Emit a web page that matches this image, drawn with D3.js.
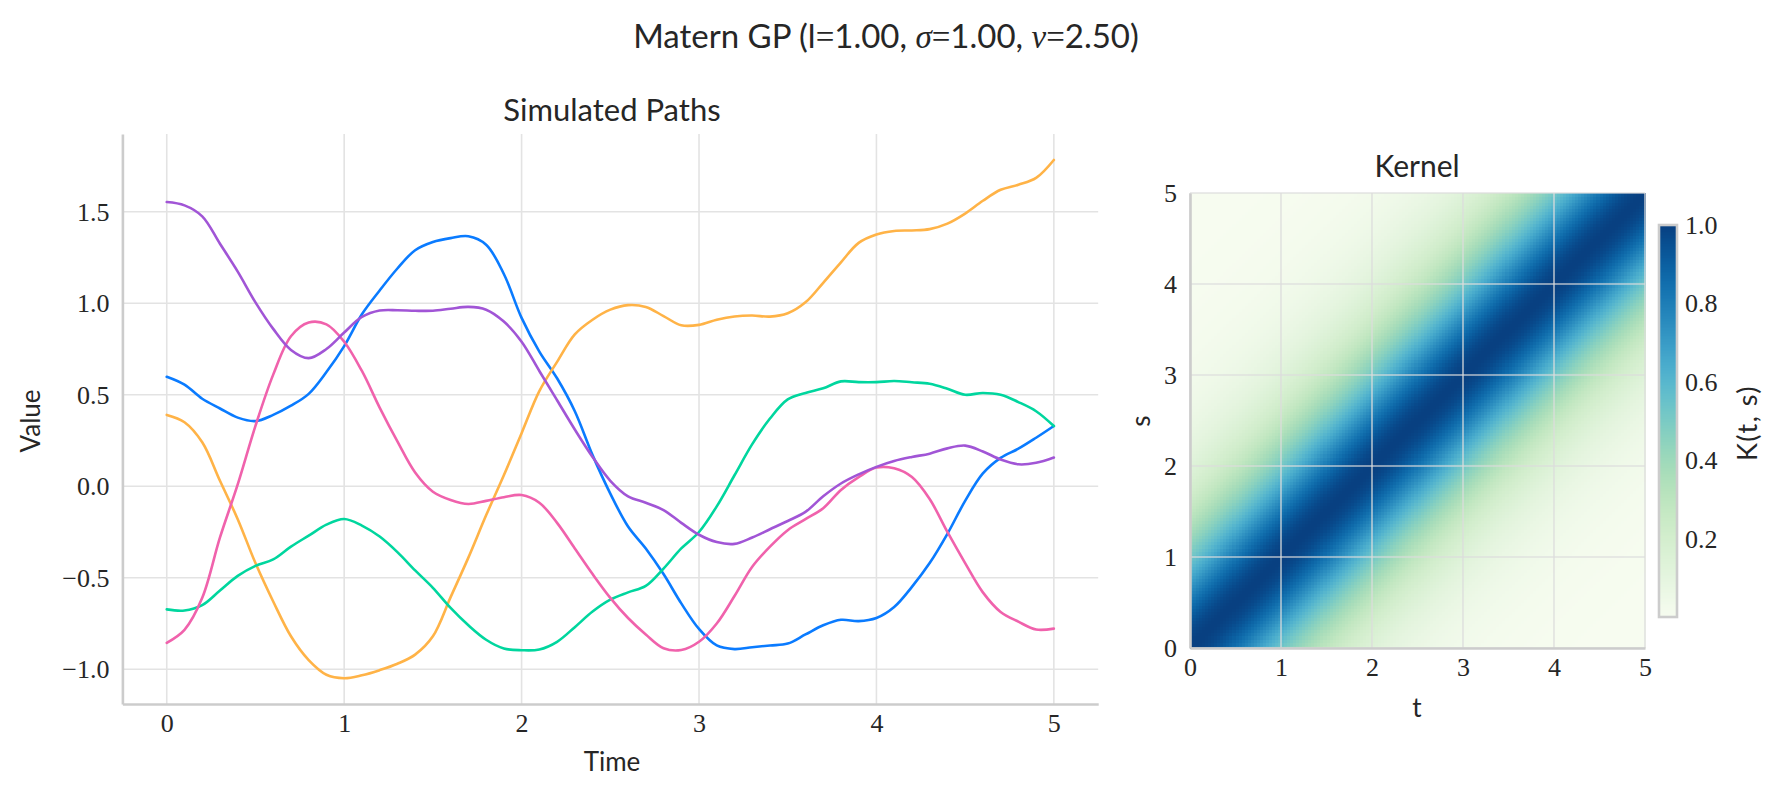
<!DOCTYPE html>
<html>
<head>
<meta charset="utf-8">
<script src="https://cdn.jsdelivr.net/npm/d3@7"></script>
<style>
  html, body { margin: 0; padding: 0; background: #ffffff; }
  svg { display: block; }
</style>
</head>
<body>
<svg id="chart" width="1780" height="793"></svg>
<script>
// ---------------- DATA ----------------
const times = [0.0,0.1,0.2,0.3,0.4,0.5,0.6,0.7,0.8,0.9,1.0,1.1,1.2,1.3,1.4,1.5,1.6,1.7,1.8,1.9,2.0,
  2.1,2.2,2.3,2.4,2.5,2.6,2.7,2.8,2.9,3.0,3.1,3.2,3.3,3.4,3.5,3.6,3.7,3.8,3.9,4.0,
  4.1,4.2,4.3,4.4,4.5,4.6,4.7,4.8,4.9,5.0];

const pathBlue = [0.598,0.555,0.478,0.425,0.375,0.356,0.39,0.44,0.505,0.624,0.766,
  0.94,1.07,1.19,1.29,1.335,1.356,1.366,1.32,1.16,0.92,
  0.736,0.59,0.41,0.17,-0.04,-0.22,-0.34,-0.48,-0.64,-0.78,
  -0.87,-0.89,-0.88,-0.87,-0.86,-0.81,-0.76,-0.73,-0.737,-0.72,
  -0.66,-0.55,-0.42,-0.26,-0.08,0.07,0.155,0.205,0.265,0.329];

const pathOrange = [0.39,0.35,0.24,0.03,-0.18,-0.42,-0.63,-0.82,-0.95,-1.03,-1.049,
  -1.033,-1.005,-0.97,-0.92,-0.82,-0.606,-0.39,-0.159,0.06,0.29,
  0.52,0.68,0.83,0.91,0.965,0.99,0.98,0.93,0.88,0.882,
  0.91,0.928,0.933,0.927,0.945,1.005,1.112,1.224,1.33,1.376,
  1.395,1.398,1.405,1.435,1.49,1.56,1.62,1.648,1.685,1.783];

const pathGreen = [-0.673,-0.679,-0.65,-0.57,-0.49,-0.435,-0.40,-0.33,-0.27,-0.21,-0.179,
  -0.215,-0.275,-0.36,-0.46,-0.555,-0.665,-0.76,-0.839,-0.887,-0.896,
  -0.892,-0.85,-0.77,-0.685,-0.62,-0.58,-0.545,-0.45,-0.34,-0.25,
  -0.11,0.06,0.23,0.37,0.475,0.51,0.535,0.573,0.569,0.569,
  0.575,0.568,0.56,0.533,0.50,0.51,0.50,0.46,0.41,0.329];

const pathPink = [-0.856,-0.785,-0.61,-0.28,0.01,0.33,0.61,0.82,0.895,0.885,0.79,
  0.63,0.43,0.245,0.075,-0.03,-0.075,-0.097,-0.08,-0.06,-0.048,
  -0.09,-0.20,-0.34,-0.48,-0.61,-0.72,-0.81,-0.885,-0.895,-0.85,
  -0.75,-0.60,-0.44,-0.33,-0.24,-0.18,-0.12,-0.02,0.05,0.102,
  0.098,0.05,-0.07,-0.25,-0.42,-0.58,-0.687,-0.74,-0.783,-0.778];

const pathPurple = [1.553,1.535,1.475,1.325,1.173,1.005,0.86,0.745,0.70,0.75,0.84,
  0.925,0.96,0.962,0.959,0.959,0.97,0.98,0.965,0.90,0.79,
  0.63,0.47,0.31,0.16,0.03,-0.055,-0.09,-0.13,-0.20,-0.265,
  -0.305,-0.315,-0.28,-0.235,-0.19,-0.14,-0.055,0.015,0.065,0.106,
  0.138,0.16,0.178,0.207,0.222,0.19,0.146,0.12,0.128,0.157];

const seriesNames = ["blue", "orange", "green", "pink", "purple"];
const seriesColors = ["#0a7bff", "#ffb347", "#00d69e", "#f062ac", "#a155d6"];

const pathTicksX = [0, 1, 2, 3, 4, 5];
const pathTicksY = [-1.0, -0.5, 0.0, 0.5, 1.0, 1.5];
const kernelTicks = [0, 1, 2, 3, 4, 5];
const colorbarTicks = [0.2, 0.4, 0.6, 0.8, 1.0];

// Matern kernel parameters, as given in the chart title
const lengthScale = 1.0;
const sigma = 1.0;
const nu = 2.5;
const kernelGridN = 150;   // heatmap resolution (cells per side)

// ---------------- SETUP ----------------
const svg = d3.select("#chart");
svg.append("rect").attr("width", 1780).attr("height", 793).attr("fill", "#fff");

const SANS = "Lato, 'Open Sans', sans-serif";
const SERIF = "'Liberation Serif', 'DejaVu Serif', serif";
const GRID = "#e3e3e3";
const SPINE = "#cccccc";
const TXT = "#262626";

// ---------- Suptitle ----------
const sup = svg.append("text")
  .attr("x", 886).attr("y", 48)
  .attr("text-anchor", "middle")
  .attr("font-family", SANS).attr("font-size", 33).attr("fill", TXT);
sup.append("tspan").text("Matern GP (l");
sup.append("tspan").attr("font-family", SERIF).text("=");
sup.append("tspan").text("1.00, ");
sup.append("tspan").attr("font-family", SERIF).attr("font-style", "italic").text("σ");
sup.append("tspan").attr("font-family", SERIF).text("=");
sup.append("tspan").text("1.00, ");
sup.append("tspan").attr("font-family", SERIF).attr("font-style", "italic").text("ν");
sup.append("tspan").attr("font-family", SERIF).text("=");
sup.append("tspan").text("2.50)");

// ---------------- LEFT: Simulated paths ----------------
const x = d3.scaleLinear().domain([-0.25, 5.25]).range([122.4, 1098.2]);
const y = d3.scaleLinear().domain([-1.19, 1.925]).range([704, 134]);

const gL = svg.append("g");

// grid
gL.append("g").selectAll("line").data(pathTicksX).join("line")
  .attr("x1", d => x(d)).attr("x2", d => x(d))
  .attr("y1", y.range()[1]).attr("y2", y.range()[0])
  .attr("stroke", GRID).attr("stroke-width", 1.6);
gL.append("g").selectAll("line").data(pathTicksY).join("line")
  .attr("x1", x.range()[0]).attr("x2", x.range()[1])
  .attr("y1", d => y(d)).attr("y2", d => y(d))
  .attr("stroke", GRID).attr("stroke-width", 1.6);

// lines
const allSeries = [pathBlue, pathOrange, pathGreen, pathPink, pathPurple];
const line = d3.line()
  .x((d, i) => x(times[i]))
  .y(d => y(d))
  .curve(d3.curveCatmullRom.alpha(0.5));

gL.append("g").selectAll("path").data(allSeries).join("path")
  .attr("d", d => line(d))
  .attr("fill", "none")
  .attr("stroke", (d, i) => seriesColors[i])
  .attr("stroke-width", 2.6)
  .attr("stroke-linejoin", "round")
  .attr("stroke-linecap", "round");

// axes via d3
const fmtY = d3.format(".1f");
const axL = gL.append("g").attr("transform", `translate(${x.range()[0]},0)`)
  .call(d3.axisLeft(y).tickValues(pathTicksY).tickFormat(fmtY).tickSize(0).tickPadding(13));
const axB = gL.append("g").attr("transform", `translate(0,${y.range()[0]})`)
  .call(d3.axisBottom(x).tickValues(pathTicksX).tickFormat(d3.format("d")).tickSize(0).tickPadding(10));
[axL, axB].forEach(a => {
  a.select(".domain").attr("stroke", SPINE).attr("stroke-width", 2.6);
  a.selectAll("text").attr("font-family", SERIF).attr("font-size", 26).attr("fill", TXT);
});

gL.append("text").attr("x", 612).attr("y", 121).attr("text-anchor", "middle")
  .attr("font-family", SANS).attr("font-size", 31).attr("fill", TXT).text("Simulated Paths");
gL.append("text").attr("x", 612).attr("y", 771).attr("text-anchor", "middle")
  .attr("font-family", SANS).attr("font-size", 26).attr("fill", TXT).text("Time");
gL.append("text").attr("transform", "translate(40,421) rotate(-90)").attr("text-anchor", "middle")
  .attr("font-family", SANS).attr("font-size", 26).attr("fill", TXT).text("Value");

// ---------------- RIGHT: Kernel heatmap ----------------
function matern(r) {
  const a = Math.sqrt(2 * nu) * r / lengthScale;
  return sigma * sigma * (1 + a + a * a / 3) * Math.exp(-a);
}
const kx = d3.scaleLinear().domain([0, 5]).range([1190, 1645]);
const ky = d3.scaleLinear().domain([0, 5]).range([648, 193]);
const kVmin = matern(5);
const color = d3.scaleSequential(d3.interpolateGnBu).domain([kVmin, 1]);

const cellIdx = d3.range(kernelGridN);
const cellW = 5 / kernelGridN;
const cells = [];
cellIdx.forEach(i => cellIdx.forEach(j => {
  const t = (i + 0.5) * cellW, s = (j + 0.5) * cellW;
  cells.push({ t0: i * cellW, s0: j * cellW, v: matern(Math.abs(t - s)) });
}));

const gK = svg.append("g");
gK.append("g").attr("shape-rendering", "crispEdges").selectAll("rect").data(cells).join("rect")
  .attr("x", d => kx(d.t0))
  .attr("y", d => ky(d.s0 + cellW))
  .attr("width", kx(cellW) - kx(0) + 0.6)
  .attr("height", ky(0) - ky(cellW) + 0.6)
  .attr("fill", d => color(d.v));

// grid on top
gK.append("g").selectAll("line").data(kernelTicks).join("line")
  .attr("x1", d => kx(d)).attr("x2", d => kx(d))
  .attr("y1", ky(5)).attr("y2", ky(0))
  .attr("stroke", "#dcdcdc").attr("stroke-opacity", 0.8).attr("stroke-width", 1.6);
gK.append("g").selectAll("line").data(kernelTicks).join("line")
  .attr("x1", kx(0)).attr("x2", kx(5))
  .attr("y1", d => ky(d)).attr("y2", d => ky(d))
  .attr("stroke", "#dcdcdc").attr("stroke-opacity", 0.8).attr("stroke-width", 1.6);

const kAxL = gK.append("g").attr("transform", `translate(${kx(0)},0)`)
  .call(d3.axisLeft(ky).tickValues(kernelTicks).tickFormat(d3.format("d")).tickSize(0).tickPadding(13));
const kAxB = gK.append("g").attr("transform", `translate(0,${ky(0)})`)
  .call(d3.axisBottom(kx).tickValues(kernelTicks).tickFormat(d3.format("d")).tickSize(0).tickPadding(10));
[kAxL, kAxB].forEach(a => {
  a.select(".domain").attr("stroke", SPINE).attr("stroke-width", 2.6);
  a.selectAll("text").attr("font-family", SERIF).attr("font-size", 26).attr("fill", TXT);
});

gK.append("text").attr("x", 1417).attr("y", 177).attr("text-anchor", "middle")
  .attr("font-family", SANS).attr("font-size", 30).attr("fill", TXT).text("Kernel");
gK.append("text").attr("x", 1417).attr("y", 717).attr("text-anchor", "middle")
  .attr("font-family", SANS).attr("font-size", 26).attr("fill", TXT).text("t");
gK.append("text").attr("transform", "translate(1150,421) rotate(-90)").attr("text-anchor", "middle")
  .attr("font-family", SANS).attr("font-size", 26).attr("fill", TXT).text("s");

// ---------------- Colorbar ----------------
const cbX0 = 1659, cbX1 = 1677;
const cy = d3.scaleLinear().domain([kVmin, 1]).range([617, 225]);
const cbSteps = d3.range(0, 256);
const gC = svg.append("g");
gC.append("g").attr("shape-rendering", "crispEdges").selectAll("rect").data(cbSteps).join("rect")
  .attr("x", cbX0)
  .attr("width", cbX1 - cbX0)
  .attr("y", k => cy(kVmin + (1 - kVmin) * (k + 1) / 256))
  .attr("height", k => cy(kVmin + (1 - kVmin) * k / 256) - cy(kVmin + (1 - kVmin) * (k + 1) / 256) + 0.6)
  .attr("fill", k => color(kVmin + (1 - kVmin) * (k + 0.5) / 256));
gC.append("rect").attr("x", cbX0).attr("y", cy(1)).attr("width", cbX1 - cbX0)
  .attr("height", cy(kVmin) - cy(1))
  .attr("fill", "none").attr("stroke", SPINE).attr("stroke-width", 2.6);

const cAx = gC.append("g").attr("transform", `translate(${cbX1},0)`)
  .call(d3.axisRight(cy).tickValues(colorbarTicks).tickFormat(d3.format(".1f")).tickSize(0).tickPadding(8));
cAx.select(".domain").remove();
cAx.selectAll("text").attr("font-family", SERIF).attr("font-size", 26).attr("fill", TXT);

gC.append("text").attr("transform", "translate(1757,423) rotate(-90)").attr("text-anchor", "middle")
  .attr("font-family", SANS).attr("font-size", 27).attr("letter-spacing", 1.5).attr("fill", TXT).text("K(t, s)");
</script>
</body>
</html>
